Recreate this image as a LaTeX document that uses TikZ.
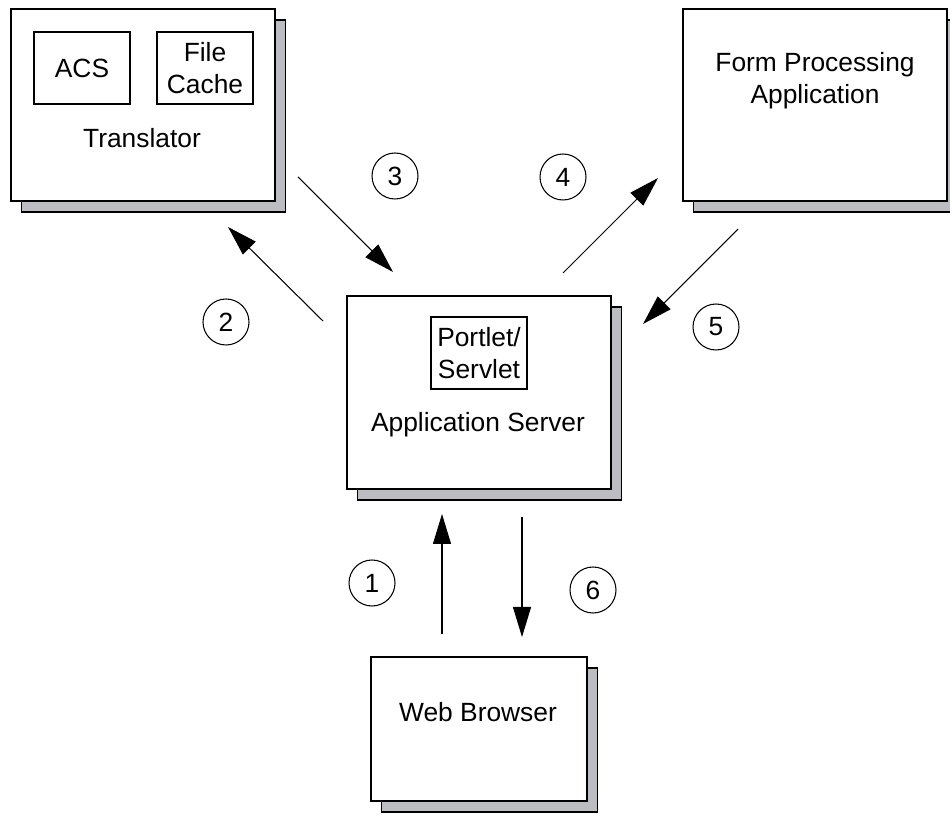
\documentclass[tikz,border=0pt]{standalone}
\usepackage{fontspec}
\setmainfont{Liberation Sans}
\usetikzlibrary{arrows.meta,shadows}

\definecolor{shadowgray}{RGB}{188,189,194}
\tikzset{
  comp/.style={draw, line width=0.6pt, fill=white, inner sep=0pt,
    drop shadow={shadow xshift=0.21cm, shadow yshift=-0.22cm,
      fill=shadowgray, draw=black, line width=0.6pt, opacity=1}},
  part/.style={draw, line width=0.6pt, fill=white, inner sep=0pt,
    minimum width=1.92cm, minimum height=1.44cm, align=center},
  num/.style={draw, circle, line width=0.6pt, inner sep=0pt, minimum size=0.92cm},
  flow/.style={line width=0.6pt, -{Triangle[length=0.6cm,width=0.36cm]}}
}

\begin{document}
\begin{tikzpicture}[font=\fontsize{15}{18.2}\selectfont]
\useasboundingbox (0,0) rectangle (19,16.28);

% components
\node[comp, minimum width=5.28cm, minimum height=3.84cm] (trans) at (2.86,14.18) {};
\node[part] (acs) at (1.64,14.92) {ACS};
\node[part] (cache) at (4.10,14.92) {File\\Cache};
\node (transtxt) at (2.84,13.52) {Translator};

\node[comp, minimum width=5.28cm, minimum height=3.84cm] (form) at (16.30,14.18) {};
\node[align=center] (formtxt) at (16.30,14.66) {Form Processing\\Application};

\node[comp, minimum width=5.28cm, minimum height=3.86cm] (appsrv) at (9.58,8.43) {};
\node[part] (portlet) at (9.58,9.22) {Portlet/\\Servlet};
\node (apptxt) at (9.56,7.78) {Application Server};

\node[comp, minimum width=4.32cm, minimum height=2.88cm] (browser) at (9.58,1.70) {};
\node (webtxt) at (9.56,2.04) {Web Browser};

% arrow ends
\coordinate (a1) at (8.84,3.60);   \coordinate (b1) at (8.84,6.00);
\coordinate (a2) at (6.46,9.86);   \coordinate (b2) at (4.56,11.74);
\coordinate (a3) at (5.96,12.74);  \coordinate (b3) at (7.86,10.84);
\coordinate (a4) at (11.26,10.82); \coordinate (b4) at (13.16,12.72);
\coordinate (a5) at (14.76,11.70); \coordinate (b5) at (12.86,9.80);
\coordinate (a6) at (10.44,5.94);  \coordinate (b6) at (10.44,3.54);

\draw[flow] (a1) -- (b1);
\draw[flow] (a2) -- (b2);
\draw[flow] (a3) -- (b3);
\draw[flow] (a4) -- (b4);
\draw[flow] (a5) -- (b5);
\draw[flow] (a6) -- (b6);

% step numbers
\node[num] (n1) at (7.44,4.62) {1};
\node[num] (n2) at (4.52,9.84) {2};
\node[num] (n3) at (7.90,12.76) {3};
\node[num] (n4) at (11.26,12.74) {4};
\node[num] (n5) at (14.32,9.74) {5};
\node[num] (n6) at (11.86,4.48) {6};
\end{tikzpicture}
\end{document}
